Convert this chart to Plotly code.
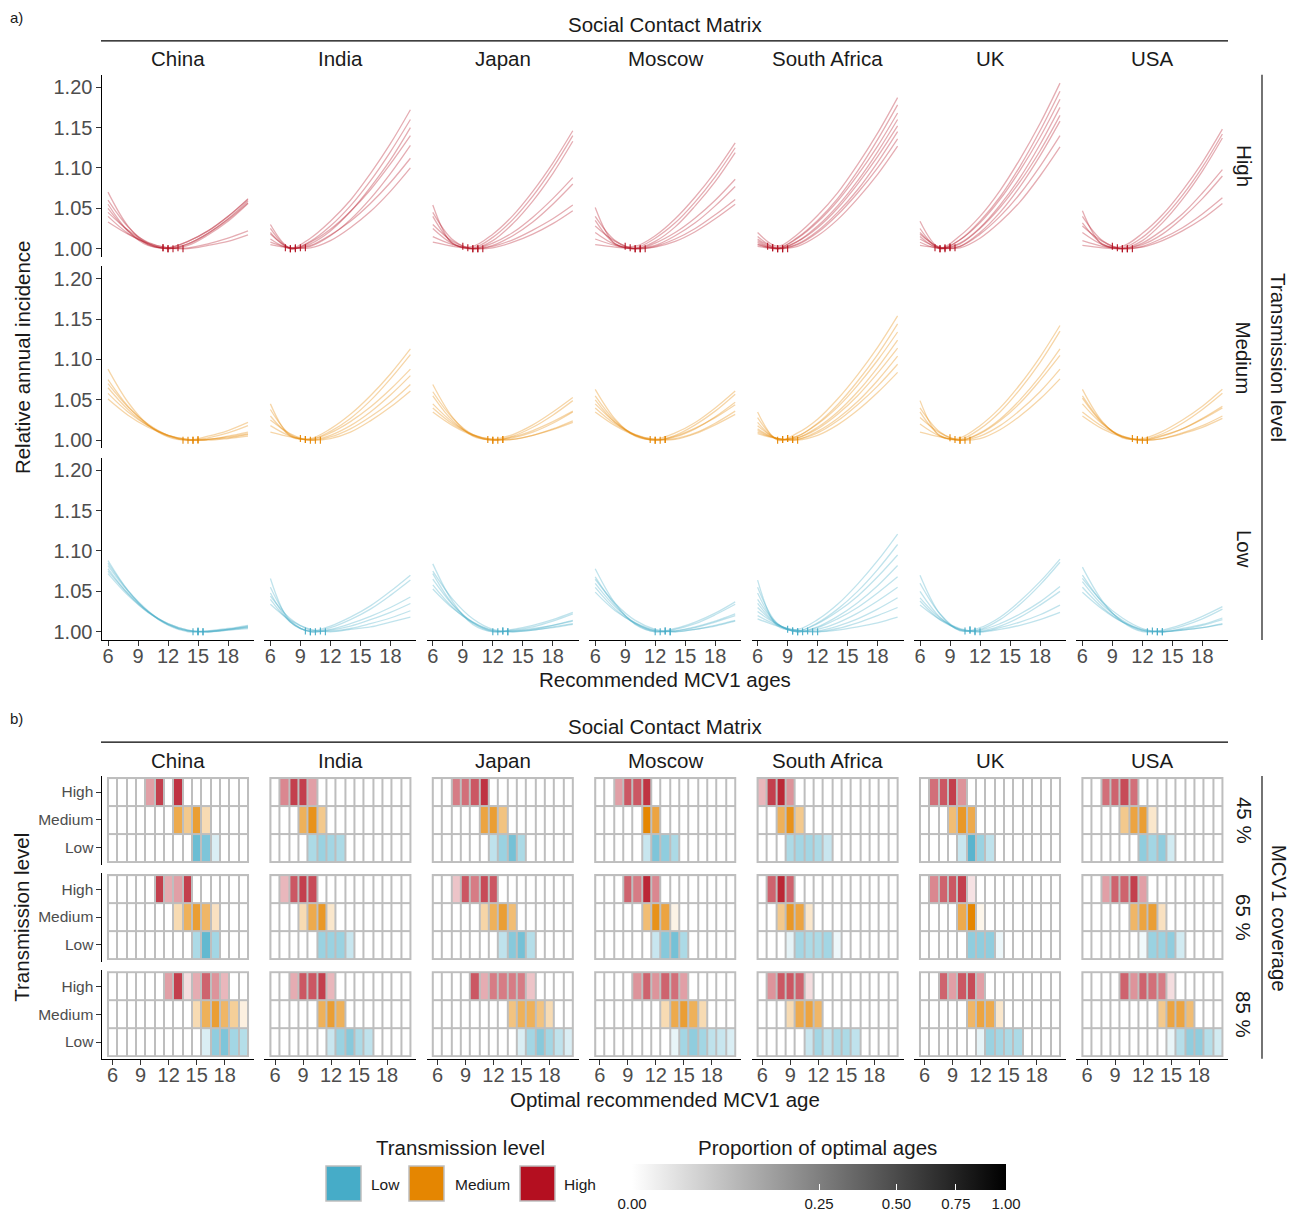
import math
import plotly.graph_objects as go

W, H = 1298, 1218
FONT = "Liberation Sans, Arial, sans-serif"

COUNTRIES = ["China", "India", "Japan", "Moscow", "South Africa", "UK", "USA"]
LEVELS = ["High", "Medium", "Low"]
COVERAGES = ["45 %", "65 %", "85 %"]
LEVEL_COLORS = {"Low": "#46ACC8", "Medium": "#E58601", "High": "#B40F20"}

CURVE_AGES = [6, 8, 10, 12, 14, 16, 18, 20]
X_TICKS = [6, 9, 12, 15, 18]
Y_TICKS = [1.00, 1.05, 1.10, 1.15, 1.20]
TILE_AGES = list(range(6, 21))
PROP_TICKS = [0.0, 0.25, 0.5, 0.75, 1.0]

# ---- panel a: relative annual incidence curves, (optimal age, values at CURVE_AGES)
HIGH_CURVES = {
    "China": [
        (11.5, [1.070, 1.028, 1.005, 1.001, 1.009, 1.022, 1.040, 1.062]),
        (11.5, [1.055, 1.022, 1.004, 1.001, 1.009, 1.022, 1.040, 1.061]),
        (12.0, [1.060, 1.027, 1.007, 1.000, 1.006, 1.019, 1.037, 1.059]),
        (12.0, [1.050, 1.022, 1.006, 1.000, 1.006, 1.019, 1.036, 1.057]),
        (12.5, [1.040, 1.019, 1.006, 1.000, 1.004, 1.017, 1.034, 1.056]),
        (13.0, [1.045, 1.023, 1.008, 1.001, 1.001, 1.006, 1.013, 1.022]),
        (13.5, [1.033, 1.018, 1.007, 1.001, 1.000, 1.004, 1.009, 1.017]),
    ],
    "India": [
        (7.5, [1.030, 1.001, 1.013, 1.034, 1.060, 1.093, 1.130, 1.172]),
        (8.0, [1.020, 1.000, 1.009, 1.028, 1.053, 1.084, 1.120, 1.160]),
        (8.5, [1.012, 1.000, 1.006, 1.022, 1.046, 1.076, 1.110, 1.150]),
        (8.0, [1.025, 1.000, 1.008, 1.024, 1.046, 1.073, 1.105, 1.140]),
        (9.0, [1.008, 1.001, 1.003, 1.016, 1.036, 1.062, 1.093, 1.128]),
        (8.5, [1.018, 1.001, 1.004, 1.017, 1.034, 1.056, 1.082, 1.112]),
        (9.5, [1.005, 1.001, 1.001, 1.010, 1.026, 1.046, 1.071, 1.100]),
    ],
    "Japan": [
        (9.0, [1.054, 1.006, 1.003, 1.018, 1.041, 1.071, 1.106, 1.146]),
        (9.5, [1.040, 1.007, 1.001, 1.014, 1.036, 1.065, 1.100, 1.140]),
        (10.0, [1.025, 1.006, 1.000, 1.010, 1.031, 1.059, 1.093, 1.133]),
        (10.0, [1.045, 1.011, 1.000, 1.007, 1.020, 1.039, 1.062, 1.088]),
        (10.5, [1.015, 1.005, 1.000, 1.004, 1.016, 1.033, 1.055, 1.080]),
        (10.5, [1.030, 1.009, 1.000, 1.003, 1.011, 1.023, 1.037, 1.054]),
        (11.0, [1.008, 1.003, 1.000, 1.001, 1.008, 1.018, 1.031, 1.047]),
    ],
    "Moscow": [
        (9.0, [1.051, 1.006, 1.003, 1.016, 1.037, 1.064, 1.095, 1.131]),
        (9.5, [1.035, 1.006, 1.001, 1.013, 1.032, 1.058, 1.089, 1.125]),
        (10.0, [1.020, 1.005, 1.000, 1.009, 1.027, 1.053, 1.083, 1.119]),
        (10.0, [1.040, 1.010, 1.000, 1.007, 1.020, 1.038, 1.060, 1.086]),
        (10.5, [1.012, 1.004, 1.000, 1.004, 1.016, 1.032, 1.053, 1.077]),
        (10.5, [1.028, 1.009, 1.000, 1.003, 1.012, 1.025, 1.042, 1.061]),
        (11.0, [1.005, 1.002, 1.000, 1.002, 1.009, 1.021, 1.037, 1.055]),
    ],
    "South Africa": [
        (7.0, [1.020, 1.003, 1.018, 1.041, 1.069, 1.104, 1.143, 1.187]),
        (7.5, [1.012, 1.001, 1.014, 1.035, 1.062, 1.096, 1.135, 1.178]),
        (7.5, [1.015, 1.001, 1.013, 1.033, 1.059, 1.091, 1.127, 1.168]),
        (8.0, [1.008, 1.000, 1.009, 1.028, 1.053, 1.084, 1.120, 1.160]),
        (8.0, [1.010, 1.000, 1.009, 1.026, 1.050, 1.080, 1.114, 1.152]),
        (8.5, [1.005, 1.000, 1.006, 1.022, 1.045, 1.073, 1.107, 1.145]),
        (8.5, [1.006, 1.000, 1.005, 1.020, 1.042, 1.069, 1.100, 1.136]),
        (9.0, [1.003, 1.000, 1.003, 1.016, 1.036, 1.062, 1.092, 1.127]),
    ],
    "UK": [
        (7.5, [1.034, 1.001, 1.016, 1.040, 1.072, 1.111, 1.155, 1.205]),
        (8.0, [1.025, 1.000, 1.011, 1.034, 1.064, 1.102, 1.146, 1.195]),
        (8.0, [1.015, 1.000, 1.011, 1.032, 1.061, 1.097, 1.138, 1.185]),
        (8.5, [1.020, 1.001, 1.007, 1.026, 1.054, 1.088, 1.129, 1.175]),
        (8.5, [1.008, 1.000, 1.006, 1.025, 1.051, 1.083, 1.121, 1.165]),
        (9.0, [1.012, 1.001, 1.003, 1.020, 1.045, 1.077, 1.115, 1.158]),
        (9.0, [1.018, 1.002, 1.003, 1.018, 1.040, 1.068, 1.102, 1.140]),
        (9.5, [1.004, 1.001, 1.001, 1.013, 1.033, 1.058, 1.090, 1.126]),
    ],
    "USA": [
        (9.0, [1.047, 1.005, 1.003, 1.019, 1.042, 1.072, 1.107, 1.148]),
        (9.5, [1.032, 1.006, 1.001, 1.014, 1.037, 1.066, 1.101, 1.142]),
        (10.0, [1.020, 1.005, 1.000, 1.010, 1.032, 1.061, 1.096, 1.137]),
        (10.0, [1.040, 1.010, 1.000, 1.007, 1.023, 1.043, 1.069, 1.098]),
        (10.5, [1.010, 1.003, 1.000, 1.005, 1.018, 1.038, 1.062, 1.090]),
        (10.5, [1.028, 1.009, 1.000, 1.003, 1.013, 1.026, 1.043, 1.063]),
        (11.0, [1.004, 1.001, 1.000, 1.002, 1.010, 1.022, 1.037, 1.056]),
    ],
}

MEDIUM_CURVES = {
    "China": [
        (13.5, [1.088, 1.047, 1.019, 1.004, 1.000, 1.005, 1.012, 1.022]),
        (14.0, [1.075, 1.042, 1.019, 1.005, 1.000, 1.003, 1.009, 1.018]),
        (14.5, [1.065, 1.038, 1.018, 1.006, 1.000, 1.001, 1.005, 1.010]),
        (15.0, [1.058, 1.035, 1.018, 1.006, 1.001, 1.001, 1.003, 1.007]),
        (15.0, [1.051, 1.031, 1.016, 1.006, 1.001, 1.000, 1.002, 1.005]),
        (14.5, [1.070, 1.041, 1.020, 1.006, 1.000, 1.001, 1.004, 1.008]),
    ],
    "India": [
        (9.0, [1.045, 1.005, 1.002, 1.014, 1.032, 1.055, 1.082, 1.113]),
        (9.5, [1.030, 1.006, 1.001, 1.011, 1.027, 1.049, 1.076, 1.106]),
        (9.5, [1.038, 1.007, 1.001, 1.009, 1.023, 1.041, 1.063, 1.088]),
        (10.0, [1.018, 1.005, 1.000, 1.006, 1.018, 1.035, 1.056, 1.080]),
        (10.5, [1.025, 1.008, 1.000, 1.004, 1.014, 1.029, 1.047, 1.069]),
        (11.0, [1.010, 1.004, 1.000, 1.002, 1.010, 1.024, 1.041, 1.061]),
    ],
    "Japan": [
        (11.5, [1.069, 1.028, 1.005, 1.001, 1.007, 1.019, 1.035, 1.053]),
        (12.0, [1.055, 1.024, 1.006, 1.000, 1.005, 1.016, 1.031, 1.049]),
        (12.5, [1.045, 1.022, 1.007, 1.000, 1.003, 1.010, 1.021, 1.035]),
        (12.0, [1.060, 1.027, 1.007, 1.000, 1.004, 1.012, 1.023, 1.036]),
        (13.0, [1.035, 1.018, 1.006, 1.001, 1.001, 1.006, 1.014, 1.024]),
        (13.0, [1.040, 1.020, 1.007, 1.001, 1.001, 1.006, 1.013, 1.022]),
    ],
    "Moscow": [
        (11.5, [1.063, 1.026, 1.005, 1.001, 1.009, 1.022, 1.040, 1.061]),
        (12.0, [1.055, 1.024, 1.006, 1.000, 1.006, 1.019, 1.036, 1.057]),
        (12.5, [1.045, 1.022, 1.007, 1.000, 1.004, 1.014, 1.029, 1.047]),
        (12.0, [1.050, 1.022, 1.006, 1.000, 1.005, 1.015, 1.028, 1.044]),
        (13.0, [1.035, 1.018, 1.006, 1.001, 1.002, 1.009, 1.021, 1.036]),
        (13.0, [1.040, 1.020, 1.007, 1.001, 1.001, 1.008, 1.019, 1.032]),
    ],
    "South Africa": [
        (8.0, [1.035, 1.000, 1.009, 1.026, 1.051, 1.081, 1.115, 1.154]),
        (8.5, [1.028, 1.001, 1.005, 1.021, 1.044, 1.073, 1.106, 1.144]),
        (8.5, [1.022, 1.001, 1.005, 1.020, 1.041, 1.068, 1.099, 1.134]),
        (9.0, [1.018, 1.002, 1.003, 1.016, 1.035, 1.060, 1.090, 1.124]),
        (9.0, [1.014, 1.002, 1.003, 1.014, 1.032, 1.055, 1.083, 1.114]),
        (9.5, [1.012, 1.002, 1.001, 1.011, 1.027, 1.048, 1.074, 1.104]),
        (9.5, [1.010, 1.002, 1.001, 1.009, 1.024, 1.044, 1.067, 1.094]),
        (10.0, [1.008, 1.002, 1.000, 1.006, 1.019, 1.037, 1.059, 1.084]),
    ],
    "UK": [
        (9.0, [1.049, 1.005, 1.003, 1.018, 1.040, 1.069, 1.103, 1.142]),
        (9.5, [1.035, 1.006, 1.001, 1.014, 1.035, 1.063, 1.096, 1.135]),
        (10.0, [1.040, 1.010, 1.000, 1.009, 1.026, 1.050, 1.079, 1.113]),
        (10.0, [1.020, 1.005, 1.000, 1.008, 1.024, 1.046, 1.074, 1.105]),
        (10.5, [1.028, 1.009, 1.000, 1.005, 1.018, 1.037, 1.060, 1.088]),
        (11.0, [1.010, 1.004, 1.000, 1.002, 1.013, 1.030, 1.051, 1.076]),
    ],
    "USA": [
        (11.0, [1.063, 1.023, 1.003, 1.002, 1.011, 1.025, 1.042, 1.063]),
        (11.5, [1.052, 1.021, 1.004, 1.001, 1.008, 1.021, 1.038, 1.058]),
        (12.0, [1.045, 1.020, 1.005, 1.000, 1.005, 1.014, 1.027, 1.042]),
        (11.5, [1.055, 1.022, 1.004, 1.000, 1.006, 1.014, 1.026, 1.040]),
        (12.5, [1.035, 1.017, 1.005, 1.000, 1.002, 1.009, 1.018, 1.030]),
        (12.5, [1.030, 1.014, 1.004, 1.000, 1.002, 1.008, 1.016, 1.027]),
    ],
}

LOW_CURVES = {
    "China": [
        (14.5, [1.088, 1.051, 1.025, 1.008, 1.000, 1.001, 1.004, 1.008]),
        (15.0, [1.082, 1.050, 1.025, 1.009, 1.001, 1.001, 1.003, 1.007]),
        (15.0, [1.078, 1.047, 1.024, 1.009, 1.001, 1.000, 1.003, 1.006]),
        (15.5, [1.075, 1.047, 1.025, 1.010, 1.002, 1.000, 1.002, 1.005]),
        (15.5, [1.072, 1.045, 1.024, 1.010, 1.002, 1.000, 1.002, 1.004]),
        (15.0, [1.085, 1.051, 1.026, 1.009, 1.001, 1.000, 1.003, 1.006]),
    ],
    "India": [
        (9.5, [1.066, 1.012, 1.001, 1.007, 1.018, 1.032, 1.050, 1.070]),
        (10.0, [1.055, 1.014, 1.000, 1.005, 1.015, 1.028, 1.045, 1.064]),
        (10.0, [1.048, 1.012, 1.000, 1.003, 1.010, 1.019, 1.030, 1.043]),
        (10.5, [1.040, 1.012, 1.000, 1.002, 1.007, 1.015, 1.024, 1.035]),
        (11.0, [1.044, 1.016, 1.002, 1.001, 1.004, 1.010, 1.017, 1.026]),
        (11.5, [1.034, 1.014, 1.003, 1.000, 1.003, 1.006, 1.012, 1.018]),
    ],
    "Japan": [
        (12.0, [1.084, 1.037, 1.009, 1.000, 1.003, 1.008, 1.015, 1.024]),
        (12.5, [1.072, 1.034, 1.011, 1.000, 1.002, 1.006, 1.013, 1.022]),
        (13.0, [1.065, 1.033, 1.012, 1.001, 1.001, 1.004, 1.008, 1.014]),
        (13.0, [1.058, 1.030, 1.011, 1.001, 1.001, 1.003, 1.008, 1.013]),
        (13.5, [1.053, 1.029, 1.012, 1.002, 1.000, 1.002, 1.005, 1.009]),
        (13.5, [1.075, 1.040, 1.016, 1.003, 1.000, 1.002, 1.006, 1.010]),
    ],
    "Moscow": [
        (12.0, [1.078, 1.035, 1.009, 1.000, 1.004, 1.012, 1.023, 1.037]),
        (12.5, [1.068, 1.033, 1.010, 1.000, 1.003, 1.010, 1.021, 1.034]),
        (13.0, [1.060, 1.031, 1.011, 1.001, 1.001, 1.006, 1.013, 1.022]),
        (13.0, [1.055, 1.028, 1.010, 1.001, 1.001, 1.005, 1.012, 1.020]),
        (13.5, [1.049, 1.026, 1.011, 1.002, 1.000, 1.003, 1.008, 1.014]),
        (13.5, [1.065, 1.035, 1.014, 1.003, 1.000, 1.003, 1.007, 1.013]),
    ],
    "South Africa": [
        (9.0, [1.064, 1.007, 1.003, 1.015, 1.034, 1.059, 1.088, 1.121]),
        (9.5, [1.055, 1.010, 1.001, 1.011, 1.028, 1.050, 1.077, 1.108]),
        (9.5, [1.048, 1.009, 1.001, 1.010, 1.025, 1.044, 1.068, 1.095]),
        (10.0, [1.040, 1.010, 1.000, 1.006, 1.019, 1.036, 1.057, 1.082]),
        (10.0, [1.035, 1.009, 1.000, 1.005, 1.016, 1.030, 1.048, 1.068]),
        (10.5, [1.030, 1.009, 1.000, 1.003, 1.011, 1.023, 1.038, 1.055]),
        (11.0, [1.025, 1.009, 1.001, 1.001, 1.007, 1.016, 1.028, 1.042]),
        (11.5, [1.020, 1.008, 1.001, 1.000, 1.004, 1.011, 1.020, 1.030]),
        (12.0, [1.016, 1.007, 1.002, 1.000, 1.002, 1.006, 1.011, 1.018]),
    ],
    "UK": [
        (10.5, [1.070, 1.022, 1.001, 1.005, 1.018, 1.038, 1.062, 1.090]),
        (11.0, [1.060, 1.022, 1.002, 1.003, 1.015, 1.034, 1.058, 1.086]),
        (11.0, [1.050, 1.018, 1.002, 1.002, 1.010, 1.022, 1.037, 1.056]),
        (11.5, [1.042, 1.017, 1.003, 1.001, 1.007, 1.018, 1.033, 1.050]),
        (11.5, [1.038, 1.015, 1.003, 1.000, 1.005, 1.012, 1.021, 1.033]),
        (12.0, [1.033, 1.015, 1.004, 1.000, 1.003, 1.008, 1.015, 1.024]),
    ],
    "USA": [
        (12.5, [1.080, 1.038, 1.012, 1.000, 1.002, 1.009, 1.019, 1.031]),
        (13.0, [1.070, 1.036, 1.013, 1.001, 1.001, 1.007, 1.016, 1.028]),
        (13.5, [1.062, 1.033, 1.014, 1.002, 1.000, 1.004, 1.009, 1.017]),
        (13.5, [1.055, 1.030, 1.012, 1.002, 1.000, 1.003, 1.008, 1.015]),
        (14.0, [1.049, 1.028, 1.012, 1.003, 1.000, 1.002, 1.005, 1.010]),
        (14.0, [1.066, 1.037, 1.017, 1.004, 1.000, 1.002, 1.005, 1.009]),
    ],
}

# ---- panel b: proportion of optimal ages; per coverage [High, Medium, Low] as (first age, proportions)
OPT_CHINA = [
    [(10, [0.16, 0.64, 0.00, 0.72]), (13, [0.49, 0.20, 0.64, 0.09]), (15, [0.64, 0.49, 0.04])],
    [(11, [0.64, 0.12, 0.16, 0.64]), (13, [0.09, 0.42, 0.64, 0.36, 0.06]), (15, [0.20, 0.72, 0.25])],
    [(12, [0.16, 0.64, 0.02, 0.12, 0.42, 0.20, 0.09]), (15, [0.09, 0.42, 0.64, 0.36, 0.16, 0.015]),
     (16, [0.04, 0.36, 0.49, 0.25, 0.16])],
]
OPT_INDIA = [
    [(7, [0.25, 0.64, 0.64, 0.16]), (9, [0.42, 0.81, 0.20]), (10, [0.20, 0.30, 0.25, 0.20])],
    [(7, [0.09, 0.49, 0.64, 0.56]), (9, [0.09, 0.49, 0.72, 0.04]), (11, [0.30, 0.30, 0.30, 0.09])],
    [(8, [0.12, 0.49, 0.49, 0.64, 0.09]), (11, [0.42, 0.64, 0.42]), (12, [0.09, 0.30, 0.42, 0.20, 0.12])],
]
OPT_JAPAN = [
    [(8, [0.30, 0.36, 0.49, 0.72]), (11, [0.56, 0.64, 0.25]), (12, [0.12, 0.30, 0.56, 0.20])],
    [(8, [0.06, 0.49, 0.30, 0.56, 0.49]), (11, [0.12, 0.42, 0.64, 0.30]), (13, [0.12, 0.42, 0.56, 0.16])],
    [(10, [0.49, 0.12, 0.30, 0.30, 0.30, 0.30, 0.06]), (14, [0.25, 0.42, 0.42, 0.25, 0.09]),
     (15, [0.04, 0.25, 0.42, 0.25, 0.12, 0.04])],
]
OPT_MOSCOW = [
    [(8, [0.16, 0.49, 0.49, 0.72]), (11, [1.00, 0.56]), (11, [0.09, 0.49, 0.36, 0.20])],
    [(9, [0.42, 0.30, 0.81, 0.25]), (11, [0.30, 0.81, 0.56, 0.01]), (12, [0.09, 0.42, 0.56, 0.20])],
    [(10, [0.20, 0.42, 0.20, 0.42, 0.36, 0.16]), (13, [0.09, 0.49, 0.64, 0.42, 0.09]),
     (14, [0.015, 0.25, 0.36, 0.25, 0.12, 0.09, 0.04])],
]
OPT_SOUTH_AFRICA = [
    [(6, [0.09, 0.64, 0.81, 0.20]), (8, [0.42, 0.81, 0.20]), (9, [0.20, 0.25, 0.25, 0.20, 0.09])],
    [(7, [0.42, 0.81, 0.42]), (8, [0.20, 0.72, 0.56, 0.04]), (9, [0.02, 0.25, 0.20, 0.20, 0.25, 0.01])],
    [(7, [0.20, 0.49, 0.49, 0.42, 0.02]), (9, [0.09, 0.49, 0.56, 0.36]),
     (11, [0.09, 0.25, 0.12, 0.20, 0.20, 0.12])],
]
OPT_UK = [
    [(7, [0.36, 0.49, 0.64, 0.20]), (9, [0.30, 0.72, 0.49]), (10, [0.09, 0.81, 0.30, 0.12])],
    [(7, [0.25, 0.42, 0.49, 0.64, 0.015]), (10, [0.49, 1.00, 0.006]), (11, [0.36, 0.36, 0.36, 0.01])],
    [(8, [0.42, 0.16, 0.49, 0.56, 0.16]), (11, [0.36, 0.56, 0.49, 0.04]), (12, [0.02, 0.30, 0.25, 0.20, 0.20])],
]
OPT_USA = [
    [(8, [0.36, 0.42, 0.56, 0.36]), (10, [0.20, 0.56, 0.64, 0.04]), (12, [0.36, 0.25, 0.36, 0.06])],
    [(8, [0.16, 0.42, 0.42, 0.64, 0.16]), (11, [0.36, 0.56, 0.64, 0.06]), (12, [0.006, 0.30, 0.30, 0.36, 0.06])],
    [(10, [0.42, 0.20, 0.42, 0.36, 0.30, 0.02]), (14, [0.20, 0.56, 0.56, 0.30]),
     (15, [0.015, 0.16, 0.36, 0.36, 0.16, 0.06])],
]
OPTIMAL = {
    "China": OPT_CHINA, "India": OPT_INDIA, "Japan": OPT_JAPAN, "Moscow": OPT_MOSCOW,
    "South Africa": OPT_SOUTH_AFRICA, "UK": OPT_UK, "USA": OPT_USA,
}
CURVES = {"High": HIGH_CURVES, "Medium": MEDIUM_CURVES, "Low": LOW_CURVES}

# ---------------------------------------------------------------- layout geometry (pixels)
VSCALE = 1218.0 / 1211.0          # vertical calibration of the photographed page
COL_LEFT0, COL_PITCH, COL_W = 102, 162.4, 152
A_TOP0, A_PITCH, A_H = 75, 192, 182.6
B_TILE_TOP0, B_PITCH, B_TILE_H = 780, 97.3, 84
GRID_GREY = "#BEBEBE"
TICK_GREY = "#4D4D4D"


def Y(v):
    return v * VSCALE


def rgba(hexcol, a):
    h = hexcol.lstrip("#")
    return "rgba(%d,%d,%d,%.3f)" % (int(h[0:2], 16), int(h[2:4], 16), int(h[4:6], 16), a)


def axis(domain_px, rng, anchor, show, horizontal, tickvals, ticktext, tsize=20):
    if horizontal:
        dom = [domain_px[0] / W, domain_px[1] / W]
    else:
        dom = [1 - Y(domain_px[1]) / H, 1 - Y(domain_px[0]) / H]
    d = dict(domain=dom, range=rng, anchor=anchor, showgrid=False, zeroline=False,
             fixedrange=True, tickvals=tickvals, ticktext=ticktext)
    if show:
        d.update(showline=True, linecolor="black", linewidth=1.1, ticks="outside", ticklen=4.5,
                 tickwidth=1.1, tickcolor="#333333", showticklabels=True,
                 tickfont=dict(family=FONT, size=tsize, color=TICK_GREY))
        if horizontal:
            d.update(ticklabelstandoff=-7)
    else:
        d.update(showline=False, ticks="", showticklabels=False)
    return d


fig = go.Figure()
layout = dict(width=W, height=H, margin=dict(l=0, r=0, t=0, b=0), paper_bgcolor="white",
              plot_bgcolor="white", showlegend=False, font=dict(family=FONT, color="#1A1A1A"))
shapes = []
n = 0

# ---------------------------------------------------------------- panel a
for r, lev in enumerate(LEVELS):
    for c, ctry in enumerate(COUNTRIES):
        n += 1
        xa, ya = "x%d" % n, "y%d" % n
        left = COL_LEFT0 + COL_PITCH * c
        top = A_TOP0 + A_PITCH * r
        layout["xaxis%d" % n] = axis([left, left + COL_W], [5.4, 20.6], ya, r == 2, True,
                                     X_TICKS, [str(t) for t in X_TICKS])
        layout["yaxis%d" % n] = axis([top, top + A_H], [0.98975, 1.2153], xa, c == 0, False,
                                     Y_TICKS, ["%.2f" % v for v in Y_TICKS])
        col = LEVEL_COLORS[lev]
        mins_x, mins_y = [], []
        for opt_age, vals in CURVES[lev][ctry]:
            fig.add_trace(go.Scatter(x=CURVE_AGES, y=vals, mode="lines", xaxis=xa, yaxis=ya,
                                     line=dict(color=rgba(col, 0.34), width=1.3, shape="spline",
                                               smoothing=1.0),
                                     hoverinfo="skip"))
            mins_x.append(opt_age)
            mins_y.append(min(vals))
        fig.add_trace(go.Scatter(x=mins_x, y=mins_y, mode="markers", xaxis=xa, yaxis=ya,
                                 marker=dict(symbol="line-ns", size=5,
                                             line=dict(color=rgba(col, 0.9), width=1.2)),
                                 hoverinfo="skip"))

# ---------------------------------------------------------------- panel b
TILE_SCALE = [[0.0, "#FFFFFF"], [0.2, LEVEL_COLORS["Low"]], [0.4, "#FFFFFF"],
              [0.6, LEVEL_COLORS["Medium"]], [0.8, "#FFFFFF"], [1.0, LEVEL_COLORS["High"]]]
ROW_OF = {"Low": 0, "Medium": 1, "High": 2}
for rr, cov in enumerate(COVERAGES):
    for c, ctry in enumerate(COUNTRIES):
        n += 1
        xa, ya = "x%d" % n, "y%d" % n
        left = COL_LEFT0 + COL_PITCH * c
        ttop = B_TILE_TOP0 + B_PITCH * rr
        layout["xaxis%d" % n] = axis([left, left + COL_W], [4.857, 21.143], ya, rr == 2, True,
                                     X_TICKS, [str(t) for t in X_TICKS])
        layout["yaxis%d" % n] = axis([ttop - 2, ttop + B_TILE_H + 3], [-0.607, 2.571], xa, c == 0,
                                     False, [2, 1, 0], ["High", "Medium", "Low"], tsize=15.5)
        z = [[2.0 * row] * len(TILE_AGES) for row in range(3)]
        for li, lev in enumerate(LEVELS):
            row = ROW_OF[lev]
            start, props = OPTIMAL[ctry][rr][li]
            for j, p in enumerate(props):
                z[row][TILE_AGES.index(start + j)] = 2.0 * row + math.sqrt(p)
        fig.add_trace(go.Heatmap(x=TILE_AGES, y=[0, 1, 2], z=z, zmin=0, zmax=5,
                                 colorscale=TILE_SCALE, showscale=False, xgap=2, ygap=2,
                                 xaxis=xa, yaxis=ya, hoverinfo="skip"))
        shapes.append(dict(type="rect", xref=xa, yref=ya, layer="below",
                           x0=min(TILE_AGES) - 0.5 - 0.11, x1=max(TILE_AGES) + 0.5 + 0.11,
                           y0=-0.5 - 0.037, y1=2.5 + 0.037,
                           fillcolor=GRID_GREY, line=dict(width=0)))

# ---------------------------------------------------------------- proportion colour bar
n += 1
layout["xaxis%d" % n] = dict(domain=[0, 0.005], range=[10, 11], visible=False, anchor="y%d" % n)
layout["yaxis%d" % n] = dict(domain=[0, 0.005], range=[10, 11], visible=False, anchor="x%d" % n)
fig.add_trace(go.Heatmap(
    z=[[0.0, 1.0]], x=[0, 1], y=[0], xaxis="x%d" % n, yaxis="y%d" % n, zmin=0, zmax=1,
    colorscale=[[0, "#FFFFFF"], [1, "#000000"]], showscale=True, hoverinfo="skip",
    colorbar=dict(orientation="h", x=819 / W, xanchor="center", y=1 - 1173.5 / H, yanchor="top",
                  len=374, lenmode="pixels", thickness=26, thicknessmode="pixels",
                  xpad=0, ypad=0, outlinewidth=0,
                  tickvals=[math.sqrt(p) for p in PROP_TICKS],
                  ticktext=["%.2f" % p for p in PROP_TICKS],
                  ticks="inside", ticklen=6, tickwidth=1.2, tickcolor="white",
                  tickfont=dict(family=FONT, size=15, color="#1A1A1A"))))


# ---------------------------------------------------------------- texts & decorations
def ann(text, x, y, size=20.5, color="#1A1A1A", angle=0):
    return dict(text=text, x=x / W, y=1 - Y(y) / H, xref="paper", yref="paper", showarrow=False,
                font=dict(family=FONT, size=size, color=color), textangle=angle,
                xanchor="center", yanchor="middle")


def hline(x0, x1, y):
    return dict(type="line", xref="paper", yref="paper", x0=x0 / W, x1=x1 / W, y0=1 - Y(y) / H,
                y1=1 - Y(y) / H, line=dict(color="black", width=1.1))


def vline(x, y0, y1):
    return dict(type="line", xref="paper", yref="paper", x0=x / W, x1=x / W, y0=1 - Y(y0) / H,
                y1=1 - Y(y1) / H, line=dict(color="black", width=1.1))


anns = [ann("a)", 16, 18, 15), ann("b)", 16, 720, 15),
        ann("Social Contact Matrix", 665, 25), ann("Social Contact Matrix", 665, 728)]
for c, ctry in enumerate(COUNTRIES):
    cx = COL_LEFT0 + COL_PITCH * c + COL_W / 2
    anns.append(ann(ctry, cx, 59))
    anns.append(ann(ctry, cx, 762))
for r, lev in enumerate(LEVELS):
    anns.append(ann(lev, 1244, A_TOP0 + A_PITCH * r + A_H / 2, angle=90))
for rr, cov in enumerate(COVERAGES):
    anns.append(ann(cov, 1244, B_TILE_TOP0 + B_PITCH * rr + B_TILE_H / 2, angle=90))
anns += [ann("Transmission level", 1279, 358, angle=90),
         ann("MCV1 coverage", 1279, 920, angle=90),
         ann("Relative annual incidence", 22, 358, angle=-90),
         ann("Transmission level", 22, 920, angle=-90),
         ann("Recommended MCV1 ages", 665, 681.5),
         ann("Optimal recommended MCV1 age", 665, 1102.5),
         ann("Transmission level", 460, 1150),
         ann("Proportion of optimal ages", 818, 1150)]

shapes += [hline(101, 1228, 41), hline(101, 1228, 744),
           vline(1262, 75, 641.6), vline(1262, 778, 1061.5)]

legend_items = [("Low", 326, 385), ("Medium", 409, 482), ("High", 520, 580)]
for lev, sx, tx in legend_items:
    shapes.append(dict(type="rect", xref="paper", yref="paper", x0=sx / W, x1=(sx + 35) / W,
                       y0=1 - Y(1204) / H, y1=1 - Y(1169) / H, fillcolor=LEVEL_COLORS[lev],
                       line=dict(color=GRID_GREY, width=1.5)))
    anns.append(ann(lev, tx, 1187, 15.5))

layout["annotations"] = anns
layout["shapes"] = shapes
fig.update_layout(**layout)
fig.write_html("out.html")
